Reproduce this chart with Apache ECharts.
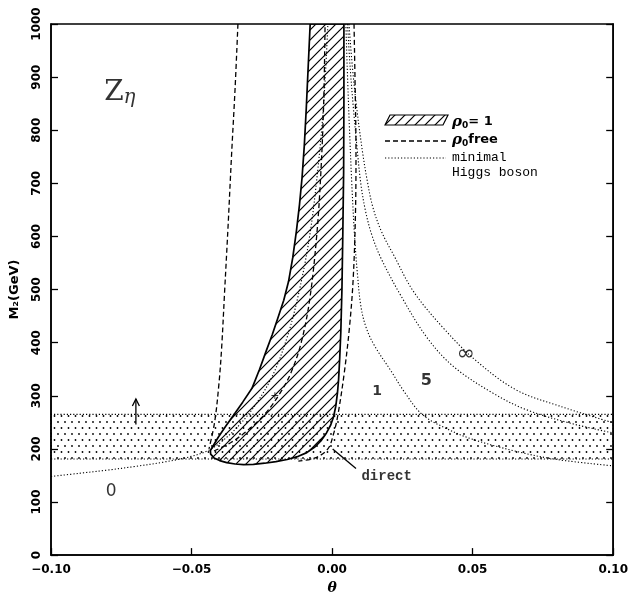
<!DOCTYPE html>
<html>
<head>
<meta charset="utf-8">
<script src="https://cdn.jsdelivr.net/npm/echarts@6/dist/echarts.min.js"></script>
<style>
  html, body { margin: 0; padding: 0; background: #fff; }
  #chart { width: 631px; height: 600px; }
</style>
</head>
<body>
<div id="chart"></div>
<script>
// axis ranges and ticks
const thetaRange = [-0.10, 0.10];
const thetaStep = 0.05;
const massRange = [0, 1000];
const massStep = 100;

// stippled band (direct search limit)
const bandRange = [181, 265];

// hatched region, rho0 = 1 (closed contour: left edge down, bottom, right edge up)
const rho1Region = [
  [-0.0078, 1000], [-0.0085, 920], [-0.0092, 840], [-0.0099, 770], [-0.0107, 710],
  [-0.0116, 660], [-0.0127, 610], [-0.0140, 560], [-0.0155, 515], [-0.0172, 480],
  [-0.0192, 448], [-0.0213, 415], [-0.0234, 385], [-0.0258, 350], [-0.0285, 314],
  [-0.0318, 288], [-0.0350, 264], [-0.0378, 243], [-0.0405, 222], [-0.0433, 197],
  [-0.0432, 190], [-0.0420, 183], [-0.0400, 178], [-0.0375, 174], [-0.0345, 171.5],
  [-0.0315, 170.5], [-0.0280, 171], [-0.0240, 173], [-0.0200, 176], [-0.0160, 180],
  [-0.0120, 186], [-0.0090, 193], [-0.0063, 203], [-0.0040, 215], [-0.0020, 230],
  [-0.0005, 245], [0.0005, 260], [0.0013, 280], [0.0019, 305], [0.0023, 330],
  [0.0027, 370], [0.0031, 420], [0.0035, 500], [0.0038, 600], [0.0041, 720],
  [0.0042, 850], [0.0042, 1000]
];

// rho0 free (dashed)
const rhoFreeLeft = [
  [-0.0335, 1000], [-0.0345, 880], [-0.0358, 750], [-0.0370, 620], [-0.0382, 500],
  [-0.0393, 390], [-0.0403, 320], [-0.0418, 250], [-0.0438, 200]
];
const rhoFreeInner = [
  [-0.042, 196], [-0.036, 212], [-0.030, 235], [-0.024, 265], [-0.0185, 305],
  [-0.0145, 345], [-0.011, 400], [-0.008, 480], [-0.0055, 600], [-0.004, 720],
  [-0.003, 850], [-0.0025, 1000]
];
const rhoFreeRight = [
  [0.0078, 1000], [0.0082, 880], [0.0085, 760], [0.0083, 640], [0.0075, 520],
  [0.0062, 430], [0.0043, 342], [0.002, 262], [0.0005, 228], [-0.0015, 200],
  [-0.006, 183], [-0.012, 177]
];

// minimal Higgs boson (dotted), labelled 0, 1, 5, infinity
const higgs0 = [
  [-0.10, 148], [-0.09, 154], [-0.08, 160], [-0.07, 167], [-0.06, 175], [-0.05, 186],
  [-0.0437, 198], [-0.039, 215], [-0.033, 245], [-0.027, 285], [-0.021, 340],
  [-0.016, 410], [-0.012, 490], [-0.008, 600], [-0.005, 730], [-0.003, 850], [-0.0015, 1000]
];
const higgs1 = [
  [0.0049, 1000], [0.0055, 900], [0.0062, 800], [0.0070, 700], [0.0080, 600], [0.0090, 530],
  [0.0102, 470], [0.0120, 430], [0.0150, 395], [0.0208, 348], [0.026, 305], [0.032, 265],
  [0.040, 240], [0.050, 218], [0.0666, 194], [0.080, 180], [0.10, 168]
];
const higgs5 = [
  [0.0055, 1000], [0.0064, 920], [0.0076, 840], [0.0090, 760], [0.0102, 700], [0.0118, 650],
  [0.0140, 605], [0.0173, 560], [0.0243, 490], [0.0337, 410], [0.0432, 355], [0.0572, 305],
  [0.069, 274], [0.085, 248], [0.10, 230]
];
const higgsInf = [
  [0.0060, 1000], [0.0072, 920], [0.0088, 840], [0.0108, 760], [0.0125, 705], [0.0145, 655],
  [0.0175, 610], [0.0219, 565], [0.029, 496], [0.0395, 428], [0.051, 367], [0.0655, 311],
  [0.0807, 281], [0.10, 249]
];

// annotations
const directPointer = [[0.0085, 163], [0.0002, 200]];
const arrowUp = [[-0.0698, 246], [-0.0698, 294]];
const curveLabels = [
  { text: '0', at: [-0.0786, 120], size: 17, weight: 'normal' },
  { text: '1', at: [0.016, 309], size: 14, weight: 'bold' },
  { text: '5', at: [0.0335, 329], size: 16, weight: 'bold' },
  { text: '∞', at: [0.0476, 379], size: 22, weight: 'normal' },
  { text: '+', at: [-0.0204, 299], size: 11, weight: 'normal' }
];
const directLabel = { text: 'direct', at: [0.0194, 148] };
const modelLabel = { at: [-0.0755, 870] };

function makeHatch() {
  const c = document.createElement('canvas');
  c.width = 10; c.height = 10;
  const g = c.getContext('2d');
  g.strokeStyle = '#000';
  g.lineWidth = 1.2;
  g.beginPath();
  g.moveTo(-1, 11); g.lineTo(11, -1);
  g.moveTo(-6, 6); g.lineTo(6, -6);
  g.moveTo(4, 16); g.lineTo(16, 4);
  g.stroke();
  return c;
}

function makeDots() {
  const c = document.createElement('canvas');
  c.width = 14; c.height = 12;
  const g = c.getContext('2d');
  g.fillStyle = '#000';
  [[2, 2], [9, 2], [5.5, 8], [12.5, 8]].forEach(([x, y]) => {
    g.beginPath(); g.arc(x, y, 0.9, 0, Math.PI * 2); g.fill();
  });
  return c;
}

const hatch = { image: makeHatch(), repeat: 'repeat' };
const dots = { image: makeDots(), repeat: 'repeat' };

const tickFont = { color: '#000', fontWeight: 'bold', fontFamily: 'DejaVu Sans', fontSize: 12 };
const fmtTheta = v => (v < -1e-9 ? '\u2212' : '') + Math.abs(v).toFixed(2);

function curve(data, type) {
  return {
    type: 'line', data: data, smooth: 0.35, symbol: 'none', silent: true,
    lineStyle: { color: '#000', width: type === 'dashed' ? 1.3 : 1.1, type: type === 'dashed' ? [5, 3] : [1.2, 2] },
    z: 4
  };
}

const chart = echarts.init(document.getElementById('chart'), null, { renderer: 'canvas' });

const option = {
  animation: false,
  backgroundColor: '#fff',
  grid: { left: 47, right: 16, top: 24, bottom: 35, show: true, borderColor: '#000', borderWidth: 1.5, backgroundColor: 'transparent' },
  xAxis: {
    type: 'value', min: thetaRange[0], max: thetaRange[1], interval: thetaStep,
    axisLine: { onZero: false, lineStyle: { color: '#000', width: 1.5 } },
    axisTick: { inside: true, length: 7, lineStyle: { color: '#000', width: 1.3 } },
    axisLabel: Object.assign({ formatter: fmtTheta, margin: 9 }, tickFont),
    splitLine: { show: false },
    name: 'θ', nameLocation: 'middle', nameGap: 25,
    nameTextStyle: { color: '#000', fontStyle: 'italic', fontWeight: 'bold', fontFamily: 'DejaVu Serif', fontSize: 14 }
  },
  yAxis: [{
    type: 'value', min: massRange[0], max: massRange[1], interval: massStep,
    axisLine: { onZero: false, lineStyle: { color: '#000', width: 1.5 } },
    axisTick: { inside: true, length: 7, lineStyle: { color: '#000', width: 1.3 } },
    axisLabel: Object.assign({ rotate: 90, margin: 8, formatter: v => String(v) }, tickFont),
    splitLine: { show: false },
    name: 'M₂(GeV)', nameLocation: 'middle', nameRotate: 90, nameGap: 30,
    nameTextStyle: { color: '#000', fontWeight: 'bold', fontFamily: 'DejaVu Sans', fontSize: 13 }
  }, {
    type: 'value', position: 'right', min: massRange[0], max: massRange[1], interval: massStep,
    axisLine: { show: true, onZero: false, lineStyle: { color: '#000', width: 1.5 } },
    axisTick: { inside: true, length: 7, lineStyle: { color: '#000', width: 1.3 } },
    axisLabel: { show: false }, splitLine: { show: false }
  }],
  graphic: [
    { type: 'polygon', shape: { points: [[385, 125], [390, 115], [448, 115], [443, 125]] },
      style: { fill: hatch, stroke: '#000', lineWidth: 1.2 }, z: 10 },
    { type: 'line', shape: { x1: 385, y1: 141, x2: 446, y2: 141 },
      style: { stroke: '#000', lineWidth: 1.3, lineDash: [5, 3] }, z: 10 },
    { type: 'line', shape: { x1: 385, y1: 158, x2: 446, y2: 158 },
      style: { stroke: '#000', lineWidth: 1.1, lineDash: [1.2, 2] }, z: 10 },
    { type: 'text', x: 452, y: 122, z: 10,
      style: { text: '{r|ρ}{s|0}{t|= 1}', verticalAlign: 'middle',
        rich: {
          r: { fontFamily: 'DejaVu Serif', fontStyle: 'italic', fontWeight: 'bold', fontSize: 15, lineHeight: 16, fill: '#000' },
          s: { fontFamily: 'DejaVu Sans', fontWeight: 'bold', fontSize: 9, lineHeight: 9, verticalAlign: 'bottom', fill: '#000' },
          t: { fontFamily: 'DejaVu Sans', fontWeight: 'bold', fontSize: 13, lineHeight: 16, fill: '#000' }
        } } },
    { type: 'text', x: 452, y: 140, z: 10,
      style: { text: '{r|ρ}{s|0}{t|free}', verticalAlign: 'middle',
        rich: {
          r: { fontFamily: 'DejaVu Serif', fontStyle: 'italic', fontWeight: 'bold', fontSize: 15, lineHeight: 16, fill: '#000' },
          s: { fontFamily: 'DejaVu Sans', fontWeight: 'bold', fontSize: 9, lineHeight: 9, verticalAlign: 'bottom', fill: '#000' },
          t: { fontFamily: 'DejaVu Sans', fontWeight: 'bold', fontSize: 13, lineHeight: 16, fill: '#000' }
        } } },
    { type: 'text', x: 452, y: 158, z: 10,
      style: { text: 'minimal', verticalAlign: 'middle', fontFamily: 'Liberation Mono', fontSize: 13, fill: '#000' } },
    { type: 'text', x: 452, y: 173, z: 10,
      style: { text: 'Higgs boson', verticalAlign: 'middle', fontFamily: 'Liberation Mono', fontSize: 13, fill: '#000' } }
  ],
  series: [
    {
      // stippled band
      type: 'line', data: [], silent: true,
      markArea: {
        silent: true,
        itemStyle: { color: dots, borderColor: '#000', borderWidth: 1.1, borderType: [1.2, 2] },
        data: [[{ xAxis: thetaRange[0], yAxis: bandRange[0] }, { xAxis: thetaRange[1], yAxis: bandRange[1] }]]
      },
      z: 1
    },
    {
      // hatched region
      type: 'custom', coordinateSystem: 'cartesian2d', data: [0], clip: true, silent: true, z: 3,
      renderItem: function (params, api) {
        return {
          type: 'polygon',
          shape: { points: rho1Region.map(p => api.coord(p)) },
          style: { fill: hatch, stroke: '#000', lineWidth: 1.7, lineJoin: 'round' }
        };
      }
    },
    curve(rhoFreeLeft, 'dashed'),
    curve(rhoFreeInner, 'dashed'),
    curve(rhoFreeRight, 'dashed'),
    curve(higgs0, 'dotted'),
    curve(higgs1, 'dotted'),
    curve(higgs5, 'dotted'),
    curve(higgsInf, 'dotted'),
    {
      type: 'line', data: directPointer, symbol: 'none', silent: true,
      lineStyle: { color: '#000', width: 1.3 }, z: 5
    },
    {
      // arrow
      type: 'custom', coordinateSystem: 'cartesian2d', data: [0], silent: true, z: 5,
      renderItem: function (params, api) {
        const a = api.coord(arrowUp[0]);
        const b = api.coord(arrowUp[1]);
        return {
          type: 'group',
          children: [
            { type: 'line', shape: { x1: a[0], y1: a[1], x2: b[0], y2: b[1] }, style: { stroke: '#000', lineWidth: 1.3 } },
            { type: 'polyline', shape: { points: [[b[0] - 3.5, b[1] + 7], [b[0], b[1]], [b[0] + 3.5, b[1] + 7]] },
              style: { stroke: '#000', lineWidth: 1.3, fill: null } }
          ]
        };
      }
    },
    {
      type: 'scatter', symbolSize: 0.1, silent: true, z: 6,
      data: curveLabels.map(l => ({
        value: l.at,
        label: { show: true, position: 'inside', formatter: l.text, color: '#000',
          fontFamily: 'DejaVu Sans', fontSize: l.size, fontWeight: l.weight }
      })).concat([{
        value: directLabel.at,
        label: { show: true, position: 'inside', formatter: directLabel.text, color: '#000',
          fontFamily: 'Liberation Mono', fontSize: 14, fontWeight: 'bold' }
      }, {
        value: modelLabel.at,
        label: { show: true, position: 'inside', formatter: '{z|Z}{e|η}',
          rich: {
            z: { fontFamily: 'DejaVu Serif', fontSize: 28, lineHeight: 30, color: '#000' },
            e: { fontFamily: 'DejaVu Serif', fontStyle: 'italic', fontSize: 20, lineHeight: 14, verticalAlign: 'bottom', color: '#000' }
          } }
      }])
    }
  ]
};

chart.setOption(option);
</script>
</body>
</html>
